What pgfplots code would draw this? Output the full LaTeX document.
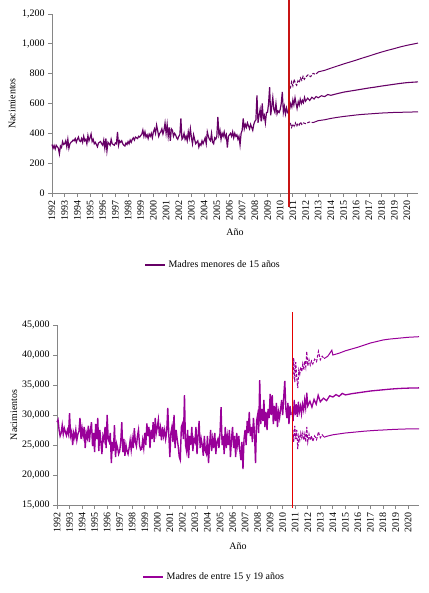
\documentclass[border=0pt]{standalone}
\usepackage{fontspec}
\setmainfont{Liberation Serif}
\usepackage{pgfplots}
\usepackage{pgfplotstable}
\pgfplotsset{compat=1.18}
\definecolor{topc}{RGB}{102,0,102}
\definecolor{botc}{RGB}{153,0,153}
\definecolor{redl}{RGB}{200,20,20}
\definecolor{axgray}{RGB}{134,134,134}

\pgfplotstableread[row sep=\\]{y\\
325\\ 300\\ 318\\ 295\\ 320\\ 310\\ 300\\ 262\\ 315\\ 305\\ 345\\ 325\\
330\\ 350\\ 310\\ 360\\ 300\\ 330\\ 340\\ 345\\ 355\\ 350\\ 365\\ 340\\
360\\ 375\\ 350\\ 345\\ 365\\ 340\\ 380\\ 350\\ 360\\ 330\\ 385\\ 350\\
370\\ 395\\ 345\\ 360\\ 330\\ 340\\ 325\\ 310\\ 335\\ 340\\ 345\\ 330\\
320\\ 355\\ 300\\ 365\\ 282\\ 340\\ 330\\ 320\\ 360\\ 330\\ 325\\ 320\\
335\\ 330\\ 410\\ 320\\ 350\\ 340\\ 350\\ 330\\ 320\\ 315\\ 335\\ 325\\
345\\ 330\\ 355\\ 340\\ 360\\ 370\\ 355\\ 375\\ 370\\ 365\\ 380\\ 375\\
385\\ 395\\ 422\\ 380\\ 410\\ 375\\ 390\\ 365\\ 395\\ 380\\ 400\\ 370\\
410\\ 430\\ 400\\ 455\\ 420\\ 380\\ 400\\ 410\\ 430\\ 395\\ 420\\ 469\\
400\\ 460\\ 380\\ 440\\ 350\\ 430\\ 420\\ 380\\ 400\\ 390\\ 370\\ 360\\
380\\ 390\\ 500\\ 360\\ 370\\ 400\\ 360\\ 380\\ 350\\ 410\\ 370\\ 430\\
370\\ 330\\ 390\\ 360\\ 330\\ 340\\ 350\\ 308\\ 330\\ 320\\ 350\\ 330\\
350\\ 370\\ 330\\ 410\\ 380\\ 360\\ 350\\ 400\\ 340\\ 330\\ 370\\ 360\\
380\\ 510\\ 390\\ 420\\ 360\\ 400\\ 380\\ 410\\ 370\\ 390\\ 305\\ 380\\
390\\ 400\\ 380\\ 410\\ 370\\ 400\\ 380\\ 390\\ 360\\ 380\\ 322\\ 400\\
420\\ 500\\ 430\\ 460\\ 440\\ 470\\ 450\\ 430\\ 460\\ 440\\ 420\\ 460\\
480\\ 490\\ 655\\ 470\\ 520\\ 560\\ 480\\ 600\\ 500\\ 520\\ 470\\ 540\\
540\\ 600\\ 710\\ 520\\ 580\\ 640\\ 560\\ 540\\ 600\\ 530\\ 550\\ 540\\
560\\ 600\\ 677\\ 540\\ 580\\ 530\\ 570\\ 540\\ 530\\
}\histA

\pgfplotstableread[row sep=\\]{y\\
28800\\ 29200\\ 27500\\ 26500\\ 27000\\ 28300\\ 26800\\ 27800\\ 27200\\ 26600\\ 27500\\ 26800\\
30300\\ 26500\\ 27200\\ 25000\\ 27000\\ 26200\\ 27500\\ 25800\\ 26800\\ 27300\\ 29500\\ 26000\\
27800\\ 26500\\ 28000\\ 24500\\ 27000\\ 26200\\ 28200\\ 25500\\ 27500\\ 28800\\ 24800\\ 27000\\
23800\\ 28500\\ 26000\\ 29500\\ 24000\\ 27500\\ 25500\\ 23500\\ 26500\\ 25800\\ 28000\\ 24500\\
30000\\ 26000\\ 25500\\ 27000\\ 22000\\ 25500\\ 24000\\ 28300\\ 23000\\ 25200\\ 24500\\ 23500\\
24000\\ 25500\\ 28800\\ 23800\\ 26000\\ 23200\\ 25000\\ 24000\\ 23500\\ 24500\\ 25800\\ 24200\\
26000\\ 24500\\ 27800\\ 25500\\ 24800\\ 26500\\ 27500\\ 25000\\ 24200\\ 24300\\ 25800\\ 24500\\
27000\\ 25000\\ 28600\\ 26500\\ 28000\\ 24500\\ 27500\\ 26000\\ 28800\\ 25500\\ 29500\\ 27000\\
28000\\ 29200\\ 26500\\ 27800\\ 25800\\ 28000\\ 26500\\ 27500\\ 26000\\ 27200\\ 31200\\ 26800\\
23000\\ 27000\\ 28000\\ 25500\\ 30000\\ 24500\\ 27500\\ 26000\\ 24800\\ 23000\\ 22500\\ 28000\\
28500\\ 26000\\ 33300\\ 25000\\ 24000\\ 27500\\ 22800\\ 26500\\ 25000\\ 28000\\ 24000\\ 26000\\
25500\\ 28000\\ 23500\\ 26500\\ 29000\\ 24500\\ 26000\\ 25000\\ 23200\\ 26500\\ 24000\\ 23500\\
26500\\ 22000\\ 25000\\ 27500\\ 24000\\ 26000\\ 24500\\ 27000\\ 23500\\ 25500\\ 26000\\ 24500\\
27000\\ 31300\\ 25000\\ 26500\\ 23500\\ 28000\\ 24500\\ 26500\\ 25000\\ 27500\\ 23000\\ 26000\\
28000\\ 24500\\ 26500\\ 23000\\ 27000\\ 25000\\ 26500\\ 24000\\ 22500\\ 25500\\ 21000\\ 26000\\
27500\\ 25000\\ 29000\\ 27000\\ 30500\\ 26500\\ 28000\\ 25500\\ 29500\\ 27000\\ 22000\\ 29000\\
30000\\ 27000\\ 35800\\ 28500\\ 31000\\ 29000\\ 32500\\ 28000\\ 30500\\ 27500\\ 31000\\ 29500\\
33500\\ 30000\\ 33300\\ 28500\\ 31500\\ 29000\\ 32000\\ 28000\\ 30500\\ 29500\\ 31000\\ 32500\\
30000\\ 33000\\ 35700\\ 31000\\ 29500\\ 32000\\ 28500\\ 31500\\ 30000\\
}\histB

\pgfplotsset{
  mystyle/.style={
    scale only axis,
    axis x line*=bottom, axis y line*=left,
    axis line style={draw=axgray, line width=0.8bp},
    every tick/.style={draw=axgray, line width=0.8bp},
    tick align=outside, major tick length=4bp,
    xmin=1992, xmax=2020.87,
    xtick={1992,...,2020},
    x tick label style={rotate=90, anchor=east, /pgf/number format/1000 sep={}},
    y tick label style={/pgf/number format/fixed, /pgf/number format/1000 sep={,}},
    scaled y ticks=false,
    /pgf/number format/assume math mode=true,
    tick label style={font=\fontsize{10}{12}\selectfont},
    label style={font=\fontsize{10}{12}\selectfont},
    clip=false,
    legend style={draw=none, fill=none, font=\fontsize{10}{12}\selectfont, anchor=center,
      /tikz/every even column/.append style={column sep=0pt}},
    legend image code/.code={\draw[line width=2.4bp] (0bp,0bp) -- (20bp,0bp);},
  }
}

\begin{document}
\begin{tikzpicture}
\useasboundingbox (0bp,0bp) rectangle (429bp,593bp);

% ---------- top chart ----------
\begin{axis}[mystyle,
  at={(52bp,400bp)}, anchor=south west, width=366bp, height=179bp,
  ymin=0, ymax=1200, ytick={0,200,...,1200},
  xlabel={Año}, ylabel={Nacimientos},
  xlabel style={at={(axis description cs:0.5,-0.218)}, anchor=center},
  ylabel style={at={(axis description cs:-0.109,0.5)}, anchor=center},
  legend style={at={(axis description cs:0.44,-0.402)}},
]
\addplot[topc, line width=1.2bp] table[x expr=1992+\coordindex/12, y=y] {\histA};
\addlegendentry{Madres menores de 15 años}
% central forecast
\addplot[topc, line width=1.1bp, forget plot] coordinates {
(2010.75,560) (2010.83,600) (2010.92,575) (2011.0,625) (2011.08,590) (2011.17,640)
(2011.25,600) (2011.33,565) (2011.42,612) (2011.5,588) (2011.58,630) (2011.67,600)
(2011.75,622) (2011.83,605) (2011.92,642) (2012.0,615) (2012.17,636) (2012.33,620)
(2012.5,642) (2012.67,630) (2012.83,647) (2013.0,638) (2013.25,652) (2013.5,646)
(2013.75,660) (2014.0,655) (2014.5,666) (2015.0,676) (2015.5,683) (2016.0,690)
(2016.5,697) (2017.0,704) (2017.5,710) (2018.0,717) (2018.5,723) (2019.0,729)
(2019.5,735) (2020.0,740) (2020.87,745)};
% upper forecast
\addplot[topc, line width=1bp, dash pattern=on 3bp off 1.5bp, forget plot] coordinates {
(2010.8,700) (2010.9,745) (2011.0,718) (2011.1,762) (2011.2,735) (2011.3,722)
(2011.4,752) (2011.5,740) (2011.6,772) (2011.7,755) (2011.8,782) (2011.9,762)
(2012.0,776) (2012.2,792) (2012.4,780) (2012.6,802) (2012.8,795) (2013.0,812)};
\addplot[topc, line width=1bp, forget plot] coordinates {
(2013.0,812) (2013.5,822) (2014.0,837) (2014.5,851) (2015.0,865) (2015.5,878)
(2016.0,891) (2016.5,905) (2017.0,918) (2017.5,932) (2018.0,945) (2018.5,957)
(2019.0,968) (2019.5,980) (2020.0,990) (2020.87,1005)};
% lower forecast
\addplot[topc, line width=1bp, dash pattern=on 3bp off 1.5bp, forget plot] coordinates {
(2010.8,470) (2010.9,440) (2011.0,462) (2011.1,448) (2011.2,470) (2011.3,446)
(2011.4,466) (2011.5,455) (2011.6,476) (2011.7,460) (2011.8,471) (2012.0,465)
(2012.3,476) (2012.6,472)};
\addplot[topc, line width=1bp, forget plot] coordinates {
(2012.6,472) (2013.0,485) (2013.5,491) (2014.0,500) (2014.5,507) (2015.0,513)
(2015.5,518) (2016.0,523) (2016.5,527) (2017.0,530) (2017.5,533) (2018.0,536)
(2018.5,538) (2019.0,540) (2019.5,541) (2020.0,542) (2020.87,544)};
% red separator
\addplot[redl, line width=2bp, forget plot] coordinates {(2010.72,-92) (2010.72,1293)};
\end{axis}

% ---------- bottom chart ----------
\begin{axis}[mystyle,
  at={(57bp,88bp)}, anchor=south west, width=362bp, height=180bp,
  ymin=15000, ymax=45000, ytick={15000,20000,...,45000},
  xlabel={Año}, ylabel={Nacimientos},
  xlabel style={at={(axis description cs:0.5,-0.228)}, anchor=center},
  ylabel style={at={(axis description cs:-0.119,0.5)}, anchor=center},
  legend style={at={(axis description cs:0.434,-0.40)}},
]
\addplot[botc, line width=1.4bp] table[x expr=1992+\coordindex/12, y=y] {\histB};
\addlegendentry{Madres de entre 15 y 19 años}
% central forecast
\addplot[botc, line width=1.3bp, forget plot] coordinates {
(2010.75,30500) (2010.83,29000) (2010.92,32500) (2011.0,30000) (2011.08,31800)
(2011.17,29700) (2011.25,32200) (2011.33,30500) (2011.42,31500) (2011.5,30200)
(2011.58,31800) (2011.67,30800) (2011.75,32500) (2011.83,31200) (2011.92,33700)
(2012.0,31500) (2012.17,32300) (2012.33,31300) (2012.5,32600) (2012.67,31800)
(2012.83,33300) (2013.0,32200) (2013.25,32800) (2013.5,32400) (2013.75,33200)
(2014.0,33000) (2014.25,33400) (2014.5,33100) (2014.75,33600) (2015.0,33350)
(2015.5,33550) (2016.0,33700) (2016.5,33850) (2017.0,34000) (2017.5,34100)
(2018.0,34200) (2018.5,34300) (2019.0,34380) (2019.5,34440) (2020.0,34480)
(2020.87,34520)};
% upper forecast
\addplot[botc, line width=1bp, dash pattern=on 3bp off 1.5bp, forget plot] coordinates {
(2010.8,36000) (2010.88,39500) (2010.96,35500) (2011.04,38800) (2011.12,36200)
(2011.2,34500) (2011.28,37500) (2011.36,36800) (2011.44,38000) (2011.52,37200)
(2011.6,38500) (2011.68,37500) (2011.76,39000) (2011.84,38000) (2011.92,40600)
(2012.0,38200) (2012.1,39200) (2012.2,38300) (2012.3,39000) (2012.4,38500)
(2012.55,39300) (2012.7,38900) (2012.85,40600) (2013.0,39200) (2013.15,39800)
(2013.3,39400)};
\addplot[botc, line width=1bp, forget plot] coordinates {
(2013.3,39400) (2013.6,39800) (2013.92,40800) (2014.0,40000) (2014.5,40300)
(2015.0,40700) (2015.5,41000) (2016.0,41300) (2016.5,41650) (2017.0,42000)
(2017.5,42250) (2018.0,42500) (2018.5,42650) (2019.0,42750) (2019.5,42850)
(2020.0,42950) (2020.87,43050)};
% lower forecast
\addplot[botc, line width=1bp, dash pattern=on 3bp off 1.5bp, forget plot] coordinates {
(2010.8,27500) (2010.88,25500) (2010.96,28200) (2011.04,26000) (2011.12,27500)
(2011.2,24300) (2011.28,26500) (2011.36,25800) (2011.44,27000) (2011.52,26200)
(2011.6,27000) (2011.68,25800) (2011.76,26800) (2011.84,25500) (2011.92,28000)
(2012.0,25500) (2012.1,26800) (2012.2,25800) (2012.3,26500) (2012.4,25600)
(2012.55,26500) (2012.7,25900) (2012.85,27200) (2013.0,26200) (2013.15,26700)
(2013.3,26300)};
\addplot[botc, line width=1bp, forget plot] coordinates {
(2013.3,26300) (2013.6,26500) (2014.0,26700) (2014.5,26850) (2015.0,27000)
(2015.5,27100) (2016.0,27200) (2016.5,27300) (2017.0,27380) (2017.5,27450)
(2018.0,27500) (2018.5,27560) (2019.0,27610) (2019.5,27650) (2020.0,27680)
(2020.87,27700)};
% red separator
\addplot[red!90!black, line width=0.9bp, forget plot] coordinates {(2010.74,14500) (2010.74,47150)};
\end{axis}
\end{tikzpicture}
\end{document}
